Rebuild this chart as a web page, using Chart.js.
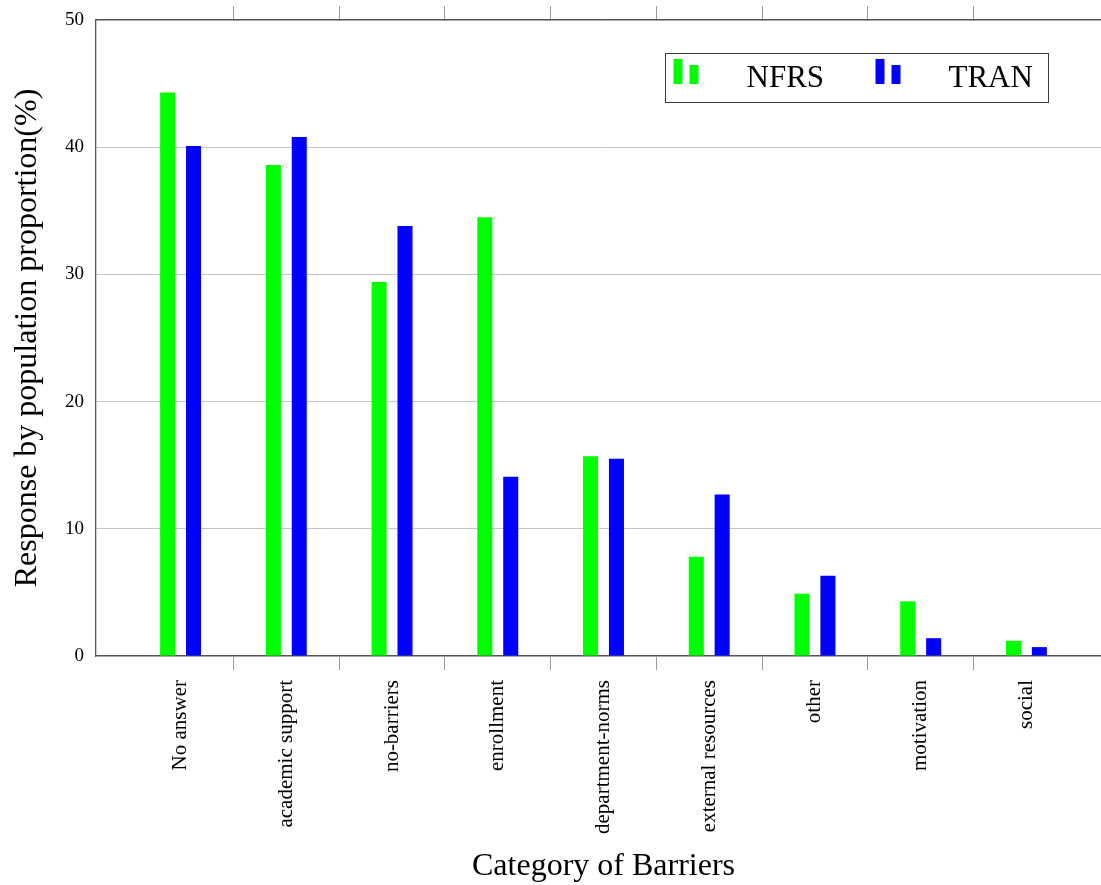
<!DOCTYPE html>
<html>
<head>
<meta charset="utf-8">
<title>Category of Barriers</title>
<script src="https://cdn.jsdelivr.net/npm/chart.js@4/dist/chart.umd.min.js"></script>
<style>
  html, body { margin: 0; padding: 0; background: #ffffff; overflow: hidden; }
  #wrap { width: 1114px; height: 885px; }
</style>
</head>
<body>
<div id="wrap"><canvas id="c" width="1114" height="885"></canvas></div>
<script>
// Barrier categories along the x axis
const categories = [
  'No answer', 'academic support', 'no-barriers', 'enrollment',
  'department-norms', 'external resources', 'other', 'motivation', 'social'
];
// Share of each population giving the response (%)
const nfrsValues = [44.3, 38.6, 29.4, 34.5, 15.7, 7.8, 4.9, 4.3, 1.2];
const tranValues = [40.1, 40.8, 33.8, 14.1, 15.5, 12.7, 6.3, 1.4, 0.7];
// Value axis ticks
const yTicks = [0, 10, 20, 30, 40, 50];

const SERIF = '"Liberation Serif", "DejaVu Serif", serif';
const AXIS_COLOR = '#555555';
const GRID_COLOR = '#c4c4c4';
const TICK_COLOR = '#9a9a9a';

const X_MIN = -0.8, X_MAX = categories.length - 1 + 0.8;
const boundaries = categories.slice(1).map((_, i) => i + 0.5);

const toPoints = vals => vals.map((v, i) => ({ x: i, y: v }));

// Legend drawn inside the plot area, with a two-bar icon per series
const boxLegend = {
  id: 'boxLegend',
  afterDatasetsDraw(chart) {
    const ctx = chart.ctx;
    const ca = chart.chartArea;
    const left = Math.round(ca.left) + 569.5, top = Math.round(ca.top) + 33.5, w = 383, h = 49;
    ctx.save();
    ctx.fillStyle = '#ffffff';
    ctx.fillRect(left, top, w, h);
    ctx.strokeStyle = '#3a3a3a';
    ctx.lineWidth = 1;
    ctx.strokeRect(left, top, w, h);
    ctx.font = '31px ' + SERIF;
    ctx.textBaseline = 'alphabetic';
    ctx.textAlign = 'left';
    chart.data.datasets.forEach((ds, i) => {
      const x0 = left + 8 + i * 202;
      ctx.fillStyle = ds.backgroundColor;
      ctx.fillRect(x0, top + 5.5, 9, 25);
      ctx.fillRect(x0 + 16, top + 11.5, 9, 19);
      ctx.fillStyle = '#000000';
      ctx.fillText(ds.label, x0 + 73, top + 33.5);
    });
    ctx.restore();
  }
};

// Outward tick marks between categories (no grid offset, no labels)
const boundaryAxis = position => ({
  type: 'linear',
  position,
  weight: 0,
  min: X_MIN,
  max: X_MAX,
  offset: false,
  afterBuildTicks(scale) {
    scale.ticks = boundaries.map(v => ({ value: v }));
  },
  afterFit(scale) { scale.paddingLeft = 0; scale.paddingRight = 0; },
  grid: { offset: false, drawOnChartArea: false, drawTicks: true, tickLength: 14, color: TICK_COLOR },
  border: { display: true, color: AXIS_COLOR, width: 1.3 },
  ticks: { display: false }
});

new Chart(document.getElementById('c'), {
  type: 'bar',
  data: {
    datasets: [
      { label: 'NFRS', data: toPoints(nfrsValues), backgroundColor: '#00ff00', borderWidth: 0 },
      { label: 'TRAN', data: toPoints(tranValues), backgroundColor: '#0000ff', borderWidth: 0 }
    ]
  },
  options: {
    responsive: false,
    animation: false,
    categoryPercentage: 0.49,
    barPercentage: 0.58,
    layout: { padding: { top: 6, right: 3, bottom: 0, left: 0 } },
    plugins: {
      legend: { display: false },
      tooltip: { enabled: false }
    },
    scales: {
      // category names, rotated
      x: {
        type: 'linear',
        position: 'bottom',
        weight: 1,
        min: X_MIN,
        max: X_MAX,
        offset: false,
        afterBuildTicks(scale) {
          scale.ticks = categories.map((_, i) => ({ value: i }));
        },
        afterFit(scale) {
          scale.height = 215;
          scale.paddingLeft = 0;
          scale.paddingRight = 0;
        },
        grid: { display: false, drawTicks: false, offset: false },
        border: { display: false },
        ticks: {
          autoSkip: false,
          minRotation: 90,
          maxRotation: 90,
          padding: 10,
          color: '#000000',
          font: { family: SERIF, size: 21 },
          callback: v => categories[v]
        },
        title: {
          display: true,
          text: 'Category of Barriers',
          color: '#000000',
          font: { family: SERIF, size: 32, lineHeight: 1 },
          padding: { top: 0, bottom: 2 }
        }
      },
      xb: boundaryAxis('bottom'),
      xt: boundaryAxis('top'),
      y: {
        type: 'linear',
        min: 0,
        max: 50,
        afterBuildTicks(scale) {
          scale.ticks = yTicks.map(v => ({ value: v }));
        },
        afterFit(scale) {
          scale.width = 96;
          scale.paddingTop = 0;
          scale.paddingBottom = 0;
        },
        grid: { color: GRID_COLOR, drawTicks: false },
        border: { display: true, color: AXIS_COLOR, width: 1.3 },
        ticks: {
          padding: 12,
          color: '#000000',
          font: { family: SERIF, size: 19 }
        },
        title: {
          display: true,
          text: 'Response by population proportion(%)',
          color: '#000000',
          font: { family: SERIF, size: 32, lineHeight: 1 },
          padding: { top: 12, bottom: 0 }
        }
      }
    }
  },
  plugins: [boxLegend]
});
</script>
</body>
</html>
